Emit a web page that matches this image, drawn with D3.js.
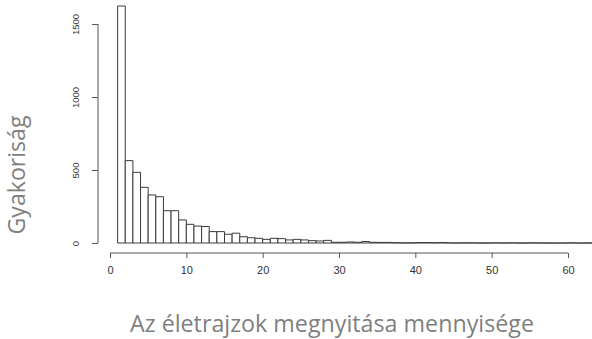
<!DOCTYPE html>
<html>
<head>
<meta charset="utf-8">
<script src="https://cdn.jsdelivr.net/npm/d3@7"></script>
<style>
  body { margin: 0; background: #fff; }
  svg { display: block; }
</style>
</head>
<body>
<svg width="592" height="339"></svg>
<script>
// histogram bins of width 1, first bin starts at 1
const binStart = 1;
const counts = [1623, 564, 484, 381, 329, 317, 221, 221, 158, 128,
  116, 113, 78, 78, 60, 67, 43, 36, 32, 25,
  32, 30, 21, 25, 21, 16, 14, 18, 5, 5,
  7, 5, 10, 5, 4, 4, 2, 1, 1, 3,
  3, 2, 3, 1, 0, 1, 1, 0, 0, 1,
  0, 1, 0, 0, 1, 0, 0, 0, 0, 1,
  0, 0, 1, 0];
const xTicks = [0, 10, 20, 30, 40, 50, 60];
const yTicks = [0, 500, 1000, 1500];
const xTitle = 'Az életrajzok megnyitása mennyisége';
const yTitle = 'Gyakoriság';

const svg = d3.select('svg');

const x = d3.scaleLinear().domain([0, 60]).range([110, 568]);
const y = d3.scaleLinear().domain([0, 1500]).range([243, 24]);

const bins = counts.map((c, i) => ({x0: binStart + i, x1: binStart + i + 1, n: c}));

// paths instead of rects so empty bins still show as a flat line
svg.append('g').selectAll('path')
  .data(bins)
  .join('path')
  .attr('d', d => 'M' + x(d.x0) + ',' + y(0) + 'V' + y(d.n) + 'H' + x(d.x1) + 'V' + y(0) + 'Z')
  .attr('fill', 'white')
  .attr('stroke', '#3a3a3a')
  .attr('stroke-width', 1);

// x axis, R style: line only across tick range
const xAxis = svg.append('g')
  .attr('transform', 'translate(0, 253)')
  .call(d3.axisBottom(x).tickValues(xTicks).tickSize(5).tickPadding(8));
xAxis.select('.domain').attr('d', 'M' + x(0) + ',0H' + x(60));
xAxis.selectAll('line, path').attr('stroke', '#555');
xAxis.selectAll('text')
  .attr('font-family', 'Liberation Sans, Arial, sans-serif')
  .attr('font-size', 11)
  .attr('fill', '#333');

const yAxis = svg.append('g')
  .attr('transform', 'translate(98, 0)')
  .call(d3.axisLeft(y).tickValues(yTicks).tickFormat(d3.format('d')).tickSize(6).tickPadding(0));
yAxis.select('.domain').attr('d', 'M0,' + y(0) + 'V' + y(1500));
yAxis.selectAll('line, path').attr('stroke', '#555');
yAxis.selectAll('text')
  .attr('font-family', 'Liberation Sans, Arial, sans-serif')
  .attr('font-size', 9.5)
  .attr('fill', '#333')
  .attr('text-anchor', 'middle')
  .attr('dy', null)
  .attr('x', null)
  .attr('transform', 'translate(-22, 0) rotate(-90)')
  .attr('dominant-baseline', 'middle');

svg.append('text')
  .attr('x', 332)
  .attr('y', 332)
  .attr('text-anchor', 'middle')
  .attr('font-family', 'Open Sans, sans-serif')
  .attr('font-size', 23.5)
  .attr('fill', '#7f7f7f')
  .attr('textLength', 404)
  .attr('lengthAdjust', 'spacingAndGlyphs')
  .text(xTitle);

svg.append('text')
  .attr('transform', 'translate(24.5, 175) rotate(-90)')
  .attr('text-anchor', 'middle')
  .attr('font-family', 'Open Sans, sans-serif')
  .attr('font-size', 23.5)
  .attr('fill', '#7f7f7f')
  .attr('textLength', 119)
  .attr('lengthAdjust', 'spacingAndGlyphs')
  .text(yTitle);
</script>
</body>
</html>
